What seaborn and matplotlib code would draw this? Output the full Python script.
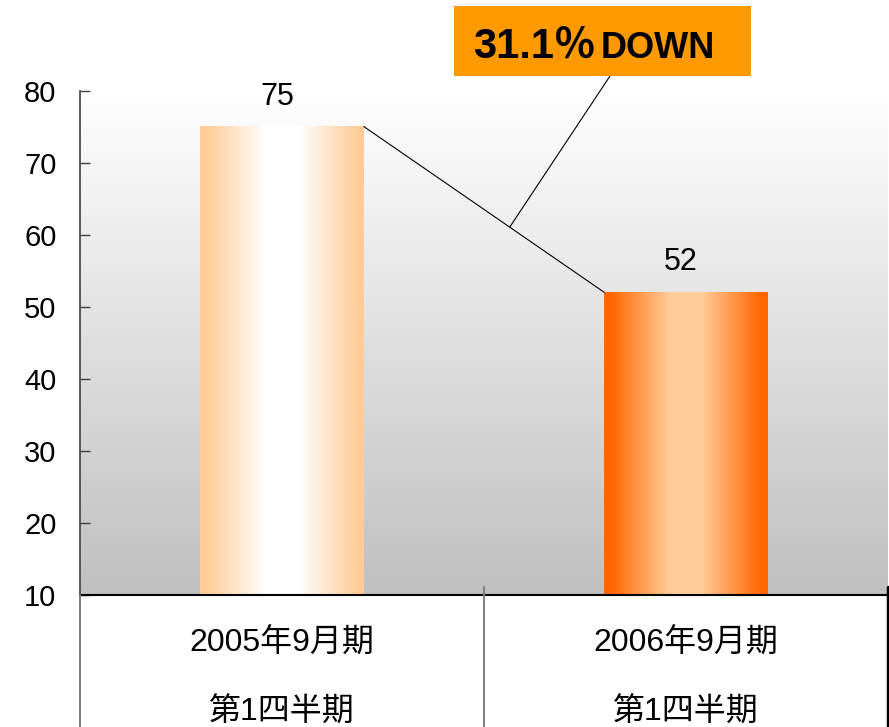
import numpy as np
import matplotlib
matplotlib.use('Agg')
import matplotlib.pyplot as plt
import matplotlib.transforms as mtransforms
from matplotlib.patches import Rectangle
from matplotlib.lines import Line2D
from matplotlib.colors import to_rgb, LinearSegmentedColormap
import seaborn as sns
import pandas as pd

# ---- data ----
categories = ['2005年9月期\n第1四半期', '2006年9月期\n第1四半期']
values = [75, 52]
value_labels = ['75', '52']
yticks = [10, 20, 30, 40, 50, 60, 70, 80]
change_pct = '31.1％'
change_word = 'DOWN'

# bar gradient colours (edge, centre)
bar_grad = [('#FFCC99', '#FFFFFF'), ('#FF6600', '#FFCC99')]

sns.set_theme(style='white')
plt.rcParams['font.family'] = ['Liberation Sans', 'Noto Sans CJK JP', 'DejaVu Sans']

W, H = 889, 727
fig = plt.figure(figsize=(W / 100, H / 100), dpi=100)
ax = fig.add_axes([80 / W, 1 - 595 / H, 808 / W, (595 - 90.5) / H])

df = pd.DataFrame({'cat': categories, 'val': values})
bw = 0.405
sns.barplot(data=df, x='cat', y='val', ax=ax, width=bw, color='#FFCC99',
            errorbar=None, zorder=2)

ymin, ymax = 10, 80

# background gradient (white top -> grey bottom)
bg = LinearSegmentedColormap.from_list('bg', ['#FFFFFF', '#C0C0C0'])
ax.imshow(np.linspace(0, 1, 256).reshape(-1, 1), cmap=bg, aspect='auto',
          extent=(-0.5, 1.5, ymin, ymax), origin='upper', zorder=0)

# bar gradients
t = np.linspace(0, 1, 400)
u = 1 - np.abs(2 * t - 1)
s = np.clip((u - 0.08) / 0.72, 0, 1)
for p, (ec, cc) in zip(ax.patches, bar_grad):
    e = np.array(to_rgb(ec)); c = np.array(to_rgb(cc))
    img = (e[None, :] * (1 - s[:, None]) + c[None, :] * s[:, None])[None, :, :]
    x0, w, h = p.get_x(), p.get_width(), p.get_height()
    p.set_facecolor('none'); p.set_edgecolor('none')
    ax.imshow(img, aspect='auto', extent=(x0, x0 + w, ymin, h), zorder=2,
              interpolation='bilinear')

ax.set_xlim(-0.5, 1.5)
ax.set_ylim(ymin, ymax)
ax.set_yticks(yticks)
ax.set_xlabel('')
ax.set_ylabel('')

# value labels
for i, (v, lab) in enumerate(zip(values, value_labels)):
    ax.annotate(lab, (i, v), xytext=(-5, 30), textcoords='offset pixels',
                ha='center', va='center', fontsize=22, color='black')

# connecting line between bar tops
xa, xb = 0 + bw / 2, 1 - bw / 2
ax.plot([xa, xb], [values[0], values[1]], color='black', lw=0.8, zorder=3)
f = 0.607
pt = (xa + f * (xb - xa), values[0] + f * (values[1] - values[0]))
ax.annotate('', xy=pt, xycoords='data', xytext=(610 / W, 1 - 76 / H),
            textcoords='figure fraction',
            arrowprops=dict(arrowstyle='-', color='black', lw=0.8,
                            shrinkA=0, shrinkB=0))

# spines / ticks
for side in ['top', 'right']:
    ax.spines[side].set_visible(False)
ax.spines['left'].set_color('#404040')
ax.spines['left'].set_linewidth(1.2)
ax.spines['bottom'].set_color('black')
ax.spines['bottom'].set_linewidth(1.5)
ax.tick_params(axis='y', direction='in', length=7.2, width=1, color='#404040',
               pad=17, labelsize=21, labelcolor='black', left=True)
ax.tick_params(axis='x', length=0, pad=24, labelsize=23, labelcolor='black')
for tl in ax.get_xticklabels():
    tl.set_linespacing(2.7)

# table-like divider lines below the axis
trans = mtransforms.blended_transform_factory(ax.transData, fig.transFigure)
fig.add_artist(Line2D([0.5, 0.5], [1 - 587 / H, 0], transform=trans,
                      color='#808080', lw=1.5))
fig.add_artist(Line2D([-0.5, -0.5], [1 - 595 / H, 0], transform=trans,
                      color='#808080', lw=1.5))
fig.add_artist(Line2D([1.5, 1.5], [1 - 587 / H, 0], transform=trans,
                      color='black', lw=2.5))

# annotation box
fig.add_artist(Rectangle((454 / W, 1 - 76 / H), (751 - 454) / W, (76 - 5.7) / H,
                         transform=fig.transFigure, facecolor='#FF9900',
                         edgecolor='none', zorder=5))
fig.text(473 / W, 1 - 58 / H, change_pct, fontsize=30, fontweight='bold',
         va='baseline', ha='left', color='black', zorder=6)
fig.text(601 / W, 1 - 58 / H, change_word, fontsize=26, fontweight='bold',
         va='baseline', ha='left', color='black', zorder=6)

fig.savefig('out.png', dpi=100)
